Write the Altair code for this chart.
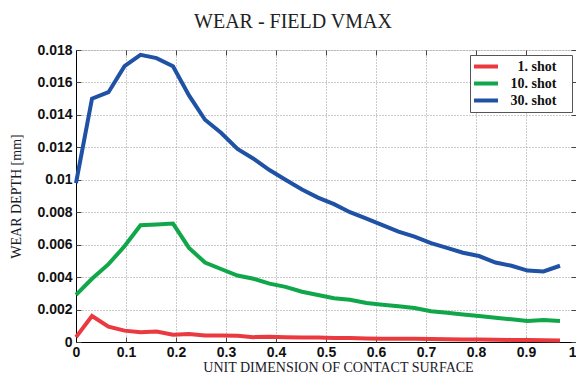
import altair as alt
import pandas as pd

# sample positions along the contact surface (31 nodes)
x_pos = [0.000, 0.032, 0.065, 0.097, 0.129, 0.161, 0.194, 0.226, 0.258, 0.290,
         0.323, 0.355, 0.387, 0.419, 0.452, 0.484, 0.516, 0.548, 0.581, 0.613,
         0.645, 0.677, 0.710, 0.742, 0.774, 0.806, 0.839, 0.871, 0.903, 0.935,
         0.968]

shot1 = [0.0003, 0.0016, 0.00095, 0.0007, 0.0006, 0.00065, 0.00045, 0.0005, 0.0004, 0.0004,
         0.00038, 0.0003, 0.00032, 0.0003, 0.00028, 0.00028, 0.00025, 0.00025, 0.00022, 0.0002,
         0.0002, 0.0002, 0.00018, 0.00017, 0.00016, 0.00015, 0.00014, 0.00013, 0.00012, 0.00011,
         0.0001]

shot10 = [0.0029, 0.0039, 0.0048, 0.0059, 0.0072, 0.00725, 0.0073, 0.0058, 0.0049, 0.0045,
          0.0041, 0.0039, 0.0036, 0.0034, 0.0031, 0.0029, 0.0027, 0.0026, 0.0024, 0.0023,
          0.0022, 0.0021, 0.0019, 0.0018, 0.0017, 0.0016, 0.0015, 0.0014, 0.0013, 0.00135,
          0.0013]

shot30 = [0.0098, 0.0150, 0.0154, 0.0170, 0.0177, 0.0175, 0.0170, 0.0152, 0.0137, 0.0129,
          0.0119, 0.0113, 0.0106, 0.0100, 0.0094, 0.0089, 0.0085, 0.0080, 0.0076, 0.0072,
          0.0068, 0.0065, 0.0061, 0.0058, 0.0055, 0.0053, 0.0049, 0.0047, 0.0044, 0.00435,
          0.0047]

series = ["1. shot", "10. shot", "30. shot"]
colors = ["#EA3A40", "#10A64A", "#1F52A5"]
x_ticks = [0, 0.1, 0.2, 0.3, 0.4, 0.5, 0.6, 0.7, 0.8, 0.9, 1.0]
y_ticks = [0, 0.002, 0.004, 0.006, 0.008, 0.01, 0.012, 0.014, 0.016, 0.018]
title_text = ["WEAR - FIELD VMAX"]

rows = []
for name, vals in zip(series, [shot1, shot10, shot30]):
    for xv, yv in zip(x_pos, vals):
        rows.append({"x": xv, "y": yv, "series": name})
df = pd.DataFrame(rows)

xscale = alt.Scale(domain=[0, 1], nice=False, zero=False)
yscale = alt.Scale(domain=[0, 0.018], nice=False, zero=False)

lab = dict(labelFont="Liberation Sans", labelFontWeight="bold", labelFontSize=14,
           labelColor="#111", labelOverlap=False, labelFlush=False)
ttl = dict(titleFont="Liberation Serif", titleFontSize=14, titleFontWeight="normal",
           titleColor="#1a1a2a")

lines = alt.Chart(df).mark_line(strokeWidth=4).encode(
    x=alt.X("x:Q", scale=xscale, axis=alt.Axis(
        values=x_ticks, format="~g", grid=True, gridDash=[1, 2], gridColor="#999",
        domainColor="#000", tickSize=0, labelPadding=3,
        labelAlign=alt.ExprRef("datum.value >= 1 ? 'right' : 'center'"),
        title="UNIT DIMENSION OF CONTACT SURFACE", titleX=262, titleY=29,
        titleBaseline="alphabetic", **lab, **ttl)),
    y=alt.Y("y:Q", scale=yscale, axis=alt.Axis(
        values=y_ticks, format="~g", grid=True, gridDash=[1, 2], gridColor="#999",
        domainColor="#000", tickSize=0, labelPadding=4,
        title="WEAR DEPTH [mm]", titleX=-56, titleY=146, titleAngle=270,
        titleBaseline="alphabetic", **lab, **ttl)),
    color=alt.Color("series:N", scale=alt.Scale(domain=series, range=colors),
                    legend=alt.Legend(
                        orient="none", legendX=394, legendY=5,
                        title="\u00a0", titleOrient="right", titlePadding=12,
                        titleFontSize=14, titleColor="white",
                        symbolType="M-1.2,0H2.64", symbolSize=156, symbolStrokeWidth=4,
                        labelFont="Liberation Serif", labelFontWeight="bold",
                        labelFontSize=14, labelColor="#111", labelAlign="right",
                        labelOffset=66.5,
                        padding=3, rowPadding=0, fillColor="white",
                        strokeColor="#555")),
)

ticks_a = alt.Chart(df).mark_point(opacity=0).encode(
    x=alt.X("x:Q", scale=xscale, axis=alt.Axis(
        orient="top", offset=-5, tickSize=5, values=x_ticks, labels=False,
        domain=False, grid=False, title=None, tickColor="#444")),
    y=alt.Y("y:Q", scale=yscale, axis=alt.Axis(
        orient="right", offset=-5, tickSize=5, values=y_ticks, labels=False,
        domain=False, grid=False, title=None, tickColor="#444")),
)

ticks_b = alt.Chart(df).mark_point(opacity=0).encode(
    x=alt.X("x:Q", scale=xscale, axis=alt.Axis(
        orient="bottom", offset=-5, tickSize=5, values=x_ticks, labels=False,
        domain=False, grid=False, title=None, tickColor="#444")),
    y=alt.Y("y:Q", scale=yscale, axis=alt.Axis(
        orient="left", offset=-5, tickSize=5, values=y_ticks, labels=False,
        domain=False, grid=False, title=None, tickColor="#444")),
)

edge = alt.Chart(df).mark_point(opacity=0).encode(
    x=alt.X("x:Q", scale=xscale, axis=None),
    y=alt.Y("y:Q", scale=yscale, axis=alt.Axis(
        orient="right", domain=True, domainColor="#777", ticks=False,
        labels=False, grid=False, title=None)),
)

title = alt.Chart(pd.DataFrame({"t": title_text})).mark_text(
    font="Liberation Serif", fontSize=20, color="#222", align="center",
    baseline="alphabetic"
).encode(text="t:N", x=alt.value(217), y=alt.value(-22))

chart = alt.layer(lines, ticks_a, ticks_b, edge, title).resolve_axis(
    x="independent", y="independent"
).properties(
    width=500, height=292,
    padding={"left": 68, "top": 42, "right": 0, "bottom": 32},
    autosize=alt.AutoSizeParams(type="none"),
).configure_view(stroke=None).configure(background="white")

chart.save("out.html", embed_options={"renderer": "svg", "actions": False})
